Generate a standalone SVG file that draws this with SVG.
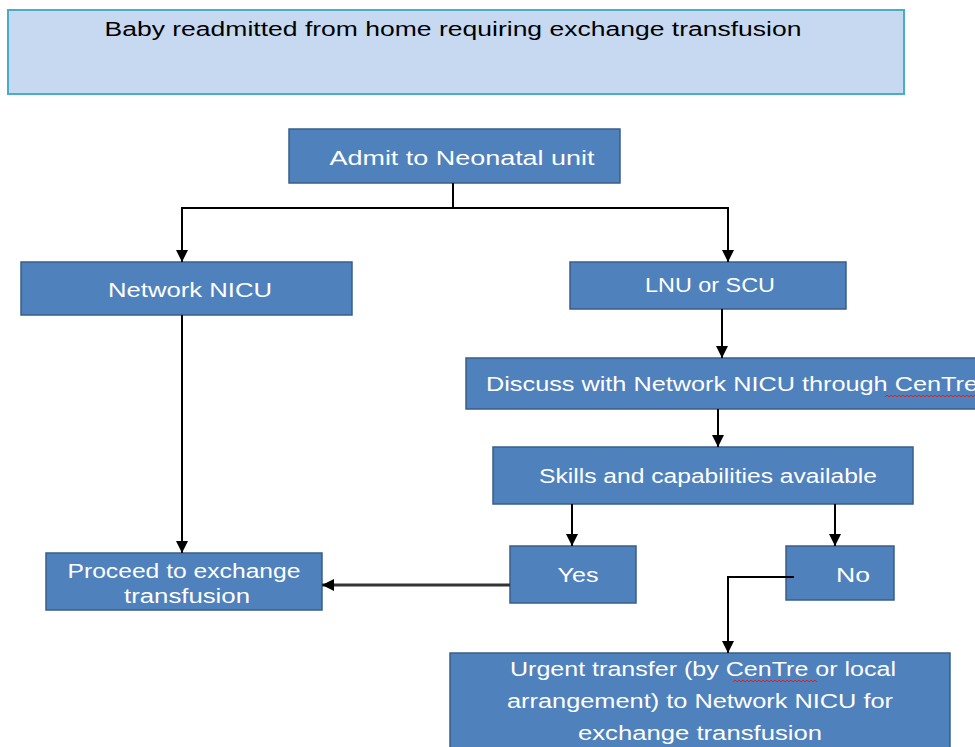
<svg xmlns="http://www.w3.org/2000/svg" width="975" height="747" viewBox="0 0 975 747">
<defs>
<marker id="ah" markerWidth="12" markerHeight="12" refX="10" refY="5" orient="auto" markerUnits="userSpaceOnUse" viewBox="0 0 10 10">
<path d="M0,0 L10,5 L0,10 z" fill="#000"/>
</marker>
<style>
.node rect{fill:#4f81bd;stroke:#385d8a;stroke-width:1.5}
.node text{fill:#fff;font-family:"Liberation Sans",Arial,sans-serif;font-size:20px;text-anchor:middle}
#top rect{fill:#c6d9f1;stroke:#4bacc6;stroke-width:2}
#top text{fill:#000}
.conn path{fill:none;stroke:#000;stroke-width:2;marker-end:url(#ah)}
.squig{fill:none;stroke:#e0201b;stroke-width:1}
</style>
</defs>
<rect width="975" height="747" fill="#fff"/>
<g id="top" class="node">
<rect x="8" y="10" width="896" height="84"/>
<text x="453" y="36" textLength="697" lengthAdjust="spacingAndGlyphs">Baby readmitted from home requiring exchange transfusion</text>
</g>
<g id="admit" class="node">
<rect x="289" y="129" width="331" height="54"/>
<text x="462" y="165" textLength="265" lengthAdjust="spacingAndGlyphs">Admit to Neonatal unit</text>
</g>
<g id="nicu" class="node">
<rect x="21" y="262" width="331" height="53"/>
<text x="190" y="297" textLength="164" lengthAdjust="spacingAndGlyphs">Network NICU</text>
</g>
<g id="lnu" class="node">
<rect x="570" y="262" width="276" height="47"/>
<text x="710" y="292" textLength="130" lengthAdjust="spacingAndGlyphs">LNU or SCU</text>
</g>
<g id="discuss" class="node">
<rect x="466" y="358" width="530" height="51"/>
<text x="486" y="391" style="text-anchor:start" textLength="492" lengthAdjust="spacingAndGlyphs">Discuss with Network NICU through CenTre</text>
<path class="squig" d="M885,397 l2,-2 l2,2 l2,-2 l2,2 l2,-2 l2,2 l2,-2 l2,2 l2,-2 l2,2 l2,-2 l2,2 l2,-2 l2,2 l2,-2 l2,2 l2,-2 l2,2 l2,-2 l2,2 l2,-2 l2,2 l2,-2 l2,2 l2,-2 l2,2 l2,-2 l2,2 l2,-2 l2,2 l2,-2 l2,2 l2,-2 l2,2 l2,-2 l2,2 l2,-2 l2,2 l2,-2 l2,2 l2,-2 l2,2 l2,-2 l2,2 l2,-2"/>
</g>
<g id="skills" class="node">
<rect x="493" y="447" width="420" height="57"/>
<text x="708" y="483" textLength="338" lengthAdjust="spacingAndGlyphs">Skills and capabilities available</text>
</g>
<g id="yes" class="node">
<rect x="510" y="546" width="126" height="57"/>
<text x="578" y="582" textLength="41" lengthAdjust="spacingAndGlyphs">Yes</text>
</g>
<g id="no" class="node">
<rect x="786" y="546" width="108" height="54"/>
<text x="853" y="582" textLength="34" lengthAdjust="spacingAndGlyphs">No</text>
</g>
<g id="proceed" class="node">
<rect x="46" y="553" width="276" height="57"/>
<text x="184" y="578" textLength="233" lengthAdjust="spacingAndGlyphs">Proceed to exchange</text>
<text x="187" y="603" textLength="126" lengthAdjust="spacingAndGlyphs">transfusion</text>
</g>
<g id="urgent" class="node">
<rect x="450" y="653" width="500" height="110"/>
<text x="703" y="676" textLength="386" lengthAdjust="spacingAndGlyphs">Urgent transfer (by CenTre or local</text>
<text x="700" y="708" textLength="386" lengthAdjust="spacingAndGlyphs">arrangement) to Network NICU for</text>
<text x="700" y="740" textLength="244" lengthAdjust="spacingAndGlyphs">exchange transfusion</text>
<path class="squig" d="M733,682 l2,-2 l2,2 l2,-2 l2,2 l2,-2 l2,2 l2,-2 l2,2 l2,-2 l2,2 l2,-2 l2,2 l2,-2 l2,2 l2,-2 l2,2 l2,-2 l2,2 l2,-2 l2,2 l2,-2 l2,2 l2,-2 l2,2 l2,-2 l2,2 l2,-2 l2,2 l2,-2 l2,2 l2,-2 l2,2 l2,-2 l2,2 l2,-2 l2,2 l2,-2 l2,2 l2,-2 l2,2 l2,-2 l2,2"/>
</g>
<g id="connectors" class="conn">
<path d="M453,183 V208 H182 V262"/>
<path d="M453,208 H728 V262"/>
<path d="M722,309 V358"/>
<path d="M718,409 V447"/>
<path d="M572,504 V546"/>
<path d="M835,504 V546"/>
<path d="M182,315 V553"/>
<path d="M510,585 H322" style="stroke:#333;stroke-width:3"/>
<path d="M794,577 H728 V653"/>
</g>
</svg>
